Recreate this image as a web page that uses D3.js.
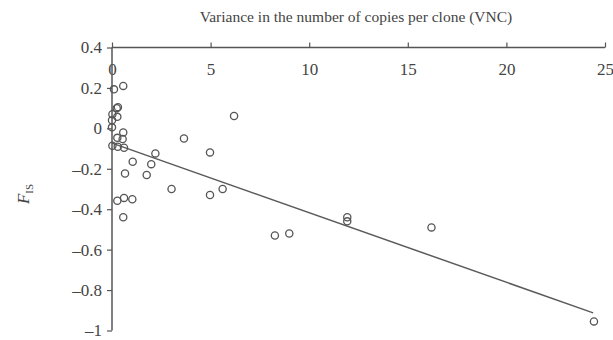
<!DOCTYPE html>
<html><head><meta charset="utf-8">
<script src="https://cdn.jsdelivr.net/npm/d3@7/dist/d3.min.js"></script>
<style>body{margin:0;background:#fff}</style>
</head><body>
<svg id="c" width="613" height="340"></svg>
<script>
const vnc = [0.1,0.57,0.24,0.3,0.02,0.27,0,0,0.57,0.27,0.54,0.02,0.29,0.61,2.2,1.05,1.99,0.66,1.76,0.27,0.61,1.03,0.57,3.65,6.19,4.97,3.02,4.97,5.61,8.26,8.99,11.93,11.93,16.2,24.44];
const fis = [0.193,0.21,0.10,0.105,0.07,0.057,0.04,0.005,-0.02,-0.047,-0.053,-0.086,-0.091,-0.096,-0.124,-0.165,-0.177,-0.223,-0.231,-0.358,-0.344,-0.351,-0.44,-0.05,0.061,-0.119,-0.30,-0.33,-0.30,-0.53,-0.52,-0.44,-0.46,-0.49,-0.955];
const fitX = [0, 24.4];
const fitY = [-0.073, -0.913];
const xTicks = [0,5,10,15,20,25];
const yTicks = [0.4,0.2,0,-0.2,-0.4,-0.6,-0.8,-1];
const xTitle = "Variance in the number of copies per clone (VNC)";

const svg = d3.select("#c");
const col = "#555";
const x = d3.scaleLinear().domain([0,25]).range([112,605]);
const y = d3.scaleLinear().domain([0.4,-1]).range([47.5,330.5]);
const fmt = v => v === 0 ? "0" : (v < 0 ? "\u2013" + String(Math.abs(v)) : String(v));

const xa = svg.append("g").attr("transform", `translate(0,${y(0.4)})`)
  .call(d3.axisTop(x).tickValues(xTicks).tickSize(5).tickFormat(d => d));
xa.select(".domain").attr("stroke", col).attr("stroke-width", 1.5).attr("d", `M${x(0)},0H${x(25)}`);
xa.selectAll(".tick line").attr("stroke", col).attr("stroke-width", 1.2);
xa.selectAll(".tick text").attr("y", 15).attr("dy", "0.71em")
  .attr("font-family", "Liberation Serif").attr("font-size", 17).attr("fill", "#444");

const ya = svg.append("g").attr("transform", `translate(${x(0)},0)`)
  .call(d3.axisLeft(y).tickValues(yTicks).tickSize(5).tickPadding(5).tickFormat(fmt));
ya.select(".domain").attr("stroke", col).attr("stroke-width", 1.5).attr("d", `M0,${y(0.4)}V${y(-1)}`);
ya.selectAll(".tick line").attr("stroke", col).attr("stroke-width", 1.2);
ya.selectAll(".tick text").attr("font-family", "Liberation Serif").attr("font-size", 17).attr("fill", "#444");

svg.append("text").attr("x", 356).attr("y", 22).attr("text-anchor", "middle")
  .attr("font-family", "Liberation Serif").attr("font-size", 15.5).attr("fill", "#444").text(xTitle);

const yl = svg.append("text").attr("transform", "translate(29,194) rotate(-90)")
  .attr("text-anchor", "middle").attr("font-family", "Liberation Serif").attr("fill", "#444");
yl.append("tspan").attr("font-size", 17).attr("font-style", "italic").text("F");
yl.append("tspan").attr("font-size", 11).attr("dy", 4).text("IS");

svg.append("line")
  .attr("x1", x(fitX[0])).attr("y1", y(fitY[0]))
  .attr("x2", x(fitX[1])).attr("y2", y(fitY[1]))
  .attr("stroke", "#5a5a5a").attr("stroke-width", 1.5);

svg.append("g").selectAll("circle").data(vnc.map((v,i)=>[v,fis[i]])).join("circle")
  .attr("cx", d => x(d[0])).attr("cy", d => y(d[1])).attr("r", 3.6)
  .attr("fill", "none").attr("stroke", col).attr("stroke-width", 1.3);
</script>
</body></html>
